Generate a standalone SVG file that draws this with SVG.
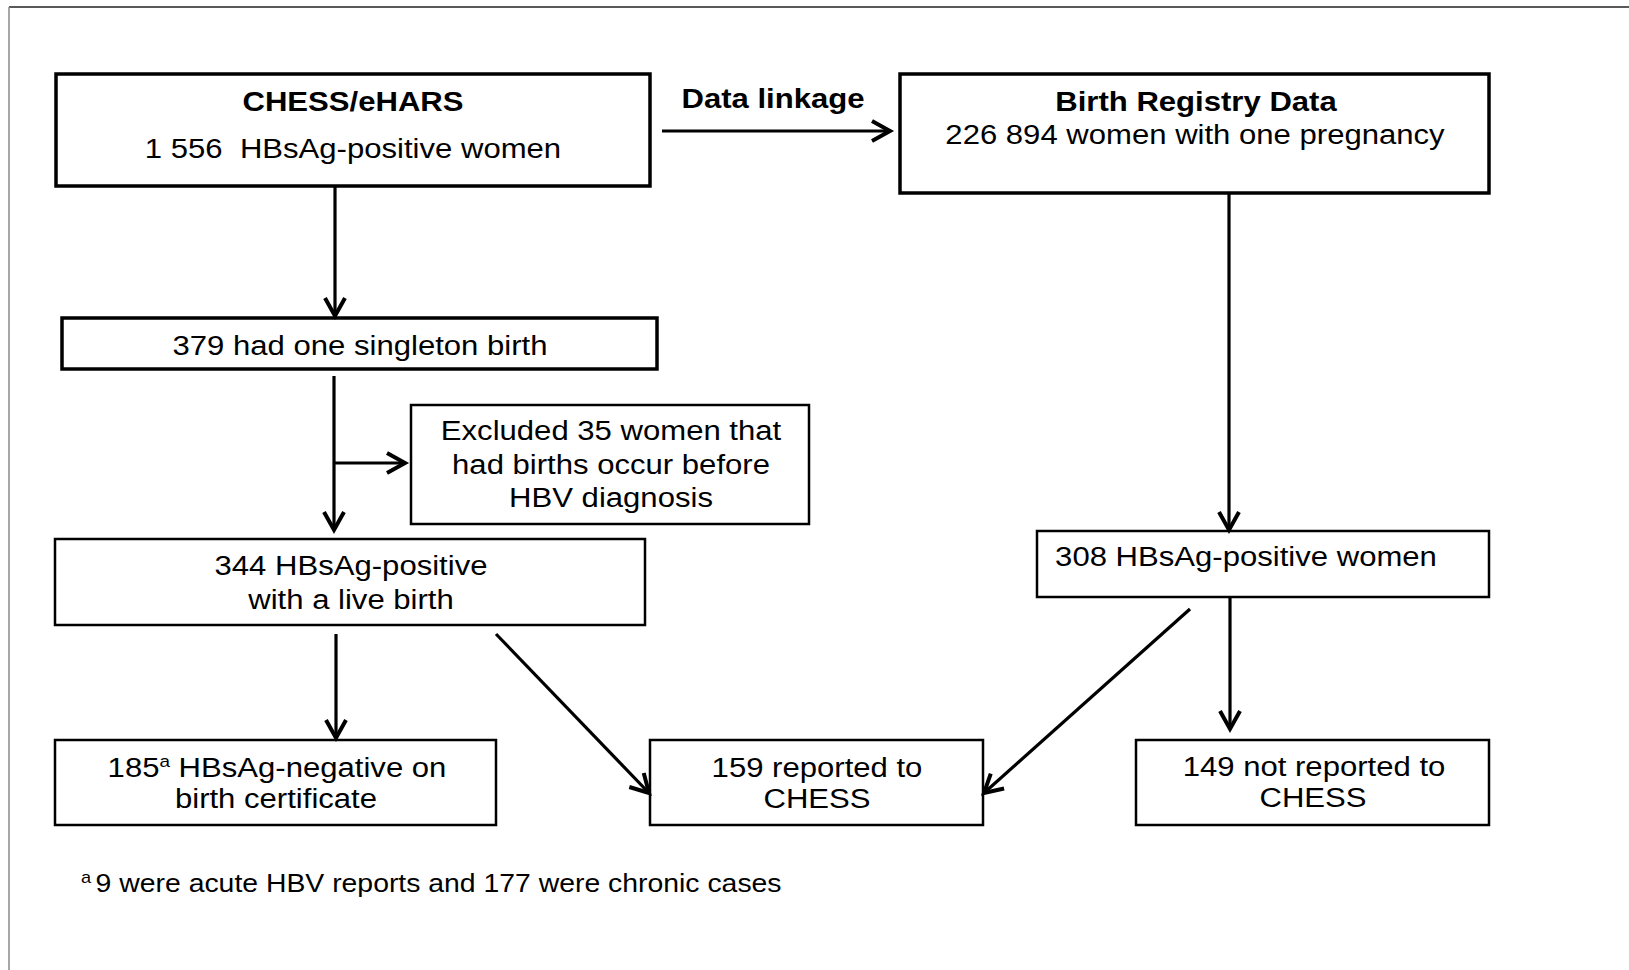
<svg xmlns="http://www.w3.org/2000/svg" width="1629" height="970" viewBox="0 0 1629 970">
<style>
.box{fill:#fff;stroke:#000;stroke-width:2.5}
.thick{stroke-width:3.5}
.t{font-family:"Liberation Sans",Arial,sans-serif;font-size:28px;fill:#000;text-anchor:middle}
.b{font-weight:bold}
.fn{font-family:"Liberation Sans",Arial,sans-serif;font-size:25px;fill:#000}
.c{fill:none;stroke:#000;stroke-width:3.2;marker-end:url(#ah)}
</style>
<defs>
<marker id="ah" markerUnits="userSpaceOnUse" viewBox="-22 -14 26 28" markerWidth="26" markerHeight="28" refX="0" refY="0" orient="auto" overflow="visible">
<path d="M-18,-10 L0,0 L-18,10" fill="none" stroke="#000" stroke-width="4"/>
</marker>
</defs>
<rect width="1629" height="970" fill="#fff"/>
<line x1="9" y1="7" x2="1629" y2="7" stroke="#222" stroke-width="1.5"/>
<line x1="9" y1="7" x2="9" y2="970" stroke="#888" stroke-width="1.5"/>

<g id="chess">
<rect class="box thick" x="56" y="74" width="594" height="112"/>
<text class="t b" transform="translate(353,111) scale(1.11,1)">CHESS/eHARS</text>
<text class="t" transform="translate(353,158) scale(1.11,1)" xml:space="preserve">1 556  HBsAg-positive women</text>
</g>
<g id="linkage-label">
<text class="t b" transform="translate(773,108) scale(1.11,1)">Data linkage</text>
</g>
<g id="birth-registry">
<rect class="box thick" x="900" y="74" width="589" height="119"/>
<text class="t b" transform="translate(1196,111) scale(1.11,1)">Birth Registry Data</text>
<text class="t" transform="translate(1195,144) scale(1.11,1)">226 894 women with one pregnancy</text>
</g>
<g id="singleton">
<rect class="box thick" x="62" y="318" width="595" height="51"/>
<text class="t" transform="translate(360,355) scale(1.11,1)">379 had one singleton birth</text>
</g>
<g id="excluded">
<rect class="box" x="411" y="405" width="398" height="119"/>
<text class="t" transform="translate(611,440) scale(1.11,1)">Excluded 35 women that</text>
<text class="t" transform="translate(611,474) scale(1.11,1)">had births occur before</text>
<text class="t" transform="translate(611,507) scale(1.11,1)">HBV diagnosis</text>
</g>
<g id="live-birth">
<rect class="box" x="55" y="539" width="590" height="86"/>
<text class="t" transform="translate(351,575) scale(1.11,1)">344 HBsAg-positive</text>
<text class="t" transform="translate(351,609) scale(1.11,1)">with a live birth</text>
</g>
<g id="registry-positive">
<rect class="box" x="1037" y="531" width="452" height="66"/>
<text class="t" transform="translate(1246,566) scale(1.11,1)">308 HBsAg-positive women</text>
</g>
<g id="negative">
<rect class="box" x="55" y="740" width="441" height="85"/>
<text class="t" transform="translate(277,777) scale(1.11,1)">185<tspan font-size="17" dy="-10">a</tspan><tspan dy="10"> HBsAg-negative on</tspan></text>
<text class="t" transform="translate(276,808) scale(1.11,1)">birth certificate</text>
</g>
<g id="reported">
<rect class="box" x="650" y="740" width="333" height="85"/>
<text class="t" transform="translate(817,777) scale(1.11,1)">159 reported to</text>
<text class="t" transform="translate(817,808) scale(1.11,1)">CHESS</text>
</g>
<g id="not-reported">
<rect class="box" x="1136" y="740" width="353" height="85"/>
<text class="t" transform="translate(1314,776) scale(1.11,1)">149 not reported to</text>
<text class="t" transform="translate(1313,807) scale(1.11,1)">CHESS</text>
</g>
<g id="footnote">
<text class="fn" transform="translate(81,892) scale(1.135,1)"><tspan font-size="16" dy="-9">a</tspan><tspan dy="9" dx="4">9 were acute HBV reports and 177 were chronic cases</tspan></text>
</g>

<g id="connectors">
<line class="c" x1="662" y1="131" x2="890" y2="131" stroke-width="3.8"/>
<line class="c" x1="335" y1="186" x2="335" y2="316"/>
<line class="c" x1="334" y1="376" x2="334" y2="530"/>
<line class="c" x1="334" y1="463" x2="405" y2="463" stroke-width="3.8"/>
<line class="c" x1="1229" y1="193" x2="1229" y2="530"/>
<line class="c" x1="336" y1="634" x2="336" y2="738"/>
<line class="c" x1="496" y1="634" x2="649" y2="793" stroke-width="4"/>
<line class="c" x1="1190" y1="609" x2="984" y2="793" stroke-width="4"/>
<line class="c" x1="1230" y1="597" x2="1230" y2="729"/>
</g>
</svg>
